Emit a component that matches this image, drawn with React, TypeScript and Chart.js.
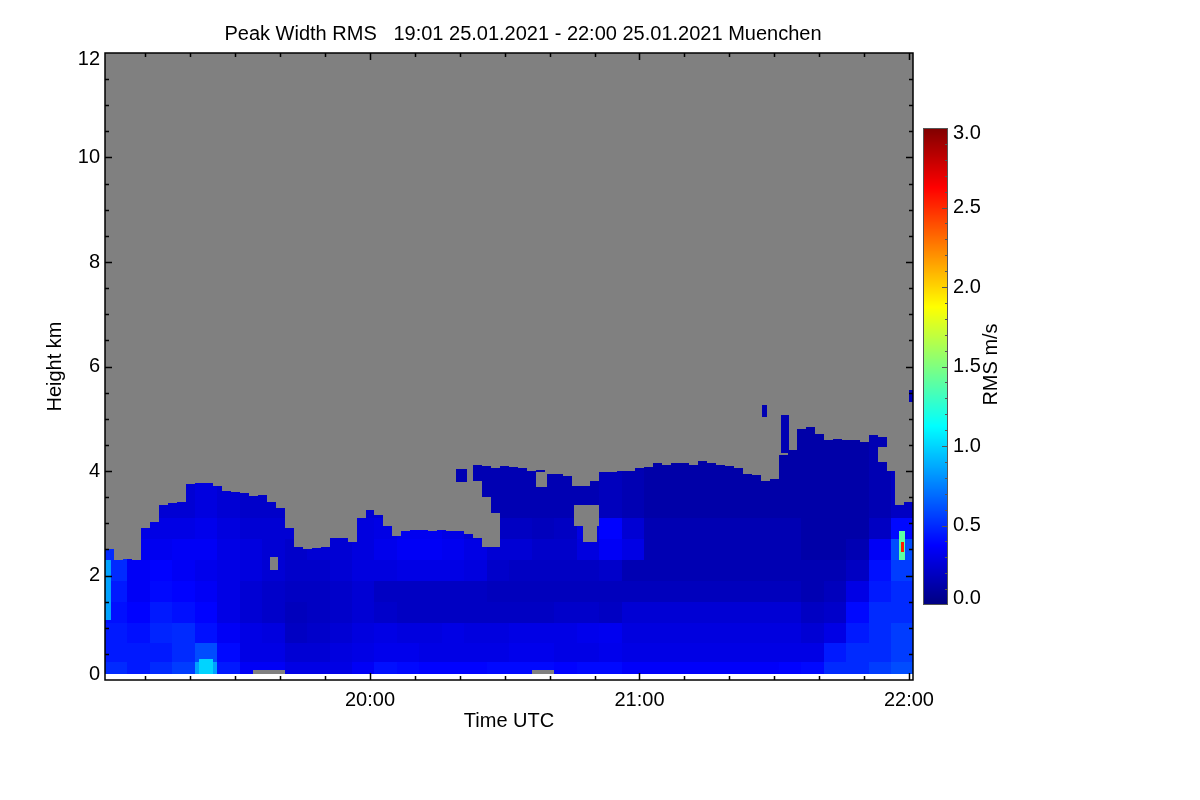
import React from "react"
import { useEffect, useRef } from "react"
import { Chart, registerables } from "chart.js"
import type { Plugin } from "chart.js"

Chart.register(...registerables)

// time axis in minutes after 19:00 UTC
const timeStart = 1
const timeEnd = 180.9
const hourTicks = [60, 120, 180]
const heightTicks = [0, 2, 4, 6, 8, 10, 12]
const rmsTicks = [0, 0.5, 1, 1.5, 2, 2.5, 3]
const rmsMin = 0
const rmsMax = 3

// top of the valid signal (km), 2-minute columns starting 19:01
const topStep = 2
const cloudTop = [
  2.5, 2.3, 2.32, 2.3, 2.9, 3.03, 3.35, 3.38, 3.4, 3.75,
  3.77, 3.77, 3.72, 3.62, 3.6, 3.58, 3.52, 3.55, 3.4, 3.3,
  2.9, 2.55, 2.5, 2.52, 2.55, 2.72, 2.72, 2.65, 3.1, 3.25,
  3.15, 2.95, 2.75, 2.85, 2.88, 2.88, 2.86, 2.87, 2.85, 2.85,
  2.8, 4.12, 4.1, 4.05, 4.1, 4.08, 4.05, 4.0, 4.02, 3.95,
  3.95, 3.9, 3.72, 3.72, 3.8, 3.98, 3.98, 4.0, 4.0, 4.05,
  4.08, 4.15, 4.12, 4.15, 4.15, 4.12, 4.2, 4.15, 4.12, 4.1,
  4.05, 3.95, 3.92, 3.8, 3.85, 4.3, 4.4, 4.8, 4.85, 4.7,
  4.6, 4.62, 4.6, 4.6, 4.55, 4.68, 4.65, 4.0, 3.35, 3.4,
]

// RMS (m/s), 5-minute columns starting 19:01, one array per height band
const valueStep = 5
const bandEdges = [0.11, 0.35, 0.7, 1.1, 1.5, 1.9, 2.3, 2.7, 3.1, 5.6]

const rmsBand0 = [
  0.5, 0.45, 0.5, 0.55, 0.85, 0.45, 0.35, 0.35,
  0.3, 0.3, 0.3, 0.35,
  0.42, 0.4, 0.38, 0.38, 0.38,
  0.4, 0.4, 0.4, 0.38, 0.4, 0.4,
  0.36, 0.36, 0.36, 0.36, 0.36, 0.36, 0.36, 0.38,
  0.4, 0.5, 0.5, 0.55, 0.6,
]
const rmsBand1 = [
  0.45, 0.45, 0.45, 0.5, 0.6, 0.4, 0.3, 0.3,
  0.25, 0.25, 0.28, 0.3,
  0.32, 0.32, 0.3, 0.3, 0.3,
  0.3, 0.32, 0.32, 0.3, 0.3, 0.32,
  0.3, 0.3, 0.3, 0.3, 0.3, 0.3, 0.3, 0.3,
  0.3, 0.45, 0.5, 0.5, 0.55,
]
const rmsBand2 = [
  0.45, 0.42, 0.48, 0.5, 0.42, 0.35, 0.3, 0.28,
  0.2, 0.22, 0.25, 0.28,
  0.3, 0.28, 0.28, 0.3, 0.28,
  0.28, 0.3, 0.3, 0.3, 0.32, 0.33,
  0.28, 0.28, 0.28, 0.28, 0.28, 0.28, 0.28, 0.28,
  0.25, 0.3, 0.45, 0.5, 0.55,
]
const rmsBand3 = [
  0.42, 0.38, 0.45, 0.42, 0.38, 0.3, 0.25, 0.22,
  0.18, 0.2, 0.22, 0.25,
  0.22, 0.2, 0.2, 0.2, 0.2,
  0.2, 0.2, 0.2, 0.22, 0.22, 0.2,
  0.25, 0.25, 0.25, 0.25, 0.25, 0.25, 0.25, 0.25,
  0.2, 0.22, 0.4, 0.5, 0.5,
]
const rmsBand4 = [
  0.45, 0.35, 0.4, 0.38, 0.35, 0.3, 0.25, 0.22,
  0.2, 0.2, 0.22, 0.25,
  0.2, 0.2, 0.2, 0.2, 0.2,
  0.18, 0.18, 0.18, 0.18, 0.18, 0.18,
  0.18, 0.18, 0.18, 0.18, 0.18, 0.18, 0.18, 0.18,
  0.15, 0.18, 0.3, 0.45, 0.5,
]
const rmsBand5 = [
  0.5, 0.35, 0.38, 0.35, 0.32, 0.3, 0.28, 0.25,
  0.22, 0.22, 0.25, 0.28,
  0.28, 0.3, 0.3, 0.3, 0.28,
  0.22, 0.2, 0.2, 0.2, 0.2, 0.22,
  0.15, 0.15, 0.15, 0.15, 0.15, 0.15, 0.15, 0.15,
  0.15, 0.15, 0.2, 0.42, 0.55,
]
const rmsBand6 = [
  0.5, 0.33, 0.33, 0.35, 0.35, 0.3, 0.28, 0.25,
  0.22, 0.25, 0.25, 0.28,
  0.32, 0.35, 0.35, 0.33, 0.3,
  0.25, 0.25, 0.22, 0.22, 0.28, 0.35,
  0.3, 0.15, 0.15, 0.15, 0.15, 0.15, 0.15, 0.15,
  0.12, 0.12, 0.15, 0.35, 0.6,
]
const rmsBand7 = [
  0.45, 0.3, 0.3, 0.3, 0.32, 0.28, 0.25, 0.25,
  0.25, 0.25, 0.25, 0.28,
  0.3, 0.33, 0.33, 0.3, 0.25,
  0.2, 0.2, 0.18, 0.2, 0.3, 0.38,
  0.25, 0.15, 0.15, 0.15, 0.15, 0.15, 0.15, 0.15,
  0.12, 0.12, 0.12, 0.2, 0.4,
]
const rmsBand8 = [
  0.4, 0.28, 0.25, 0.25, 0.28, 0.25, 0.22, 0.22,
  0.22, 0.22, 0.22, 0.25,
  0.25, 0.25, 0.25, 0.22, 0.15,
  0.15, 0.15, 0.15, 0.15, 0.15, 0.18,
  0.15, 0.12, 0.12, 0.12, 0.12, 0.12, 0.12, 0.12,
  0.12, 0.12, 0.12, 0.15, 0.2,
]
const rmsBands = [rmsBand0, rmsBand1, rmsBand2, rmsBand3, rmsBand4, rmsBand5, rmsBand6, rmsBand7, rmsBand8]

// no-data holes inside the signal: [t0, t1, h0, h1]
const gaps = [
  [34, 41, 0.11, 0.19],
  [96, 101, 0.11, 0.2],
  [37.8, 39.6, 2.1, 2.35],
  [83, 85, 2.72, 3.8],
  [85, 87, 2.55, 3.5],
  [87, 89, 2.55, 3.2],
  [105.5, 111, 2.95, 3.35],
  [107.5, 110.5, 2.65, 2.95],
  [97, 99.3, 3.7, 3.98],
  [173, 177, 4.17, 4.45],
]

// small isolated features: [t0, t1, h0, h1, rms]
const patches = [
  [1.1, 2.3, 1.15, 2.3, 0.85],
  [22, 25, 0.11, 0.4, 1.0],
  [79.1, 81.6, 3.79, 4.04, 0.15],
  [147.3, 148.4, 5.03, 5.26, 0.15],
  [151.5, 153.3, 4.35, 5.07, 0.15],
  [180.0, 180.9, 5.32, 5.55, 0.15],
  [177.8, 179.2, 2.3, 2.85, 1.4],
  [178.2, 178.9, 2.45, 2.65, 2.55],
]

const FONT = '"Liberation Sans", Arial, Helvetica, sans-serif'
const FONT_SIZE = 20
const GREY = "#808080"
const TITLE = "Peak Width RMS   19:01 25.01.2021 - 22:00 25.01.2021 Muenchen"

function jet(v: number) {
  const f = Math.max(0, Math.min(1, (v - rmsMin) / (rmsMax - rmsMin)))
  const c = (a: number) => Math.round(255 * Math.max(0, Math.min(1, a)))
  const r = c(Math.min(4 * f - 1.5, -4 * f + 4.5))
  const g = c(Math.min(4 * f - 0.5, -4 * f + 3.5))
  const b = c(Math.min(4 * f + 0.5, -4 * f + 2.5))
  return `rgb(${r},${g},${b})`
}

function hhmm(v: number) {
  const h = 19 + Math.floor(v / 60)
  const m = Math.round(v % 60)
  return `${h}:${m < 10 ? "0" + m : m}`
}

const heatmap: Plugin = {
  id: "heatmap",
  beforeDatasetsDraw(chart) {
    const { ctx, chartArea: a } = chart
    const x = chart.scales.x
    const y = chart.scales.y
    const rect = (t0: number, t1: number, h0: number, h1: number, color: string) => {
      const x0 = Math.round(x.getPixelForValue(t0))
      const x1 = Math.round(x.getPixelForValue(t1))
      const y0 = Math.round(y.getPixelForValue(h1))
      const y1 = Math.round(y.getPixelForValue(h0))
      ctx.fillStyle = color
      ctx.fillRect(x0, y0, x1 - x0, y1 - y0)
    }
    ctx.save()
    ctx.beginPath()
    ctx.rect(a.left, a.top, a.right - a.left, a.bottom - a.top)
    ctx.clip()
    rect(timeStart, timeEnd + 1, bandEdges[0], 12, GREY)
    rmsBands.forEach((band, b) => {
      band.forEach((v, k) => {
        const t0 = timeStart + k * valueStep
        rect(t0, t0 + valueStep, bandEdges[b], bandEdges[b + 1], jet(v))
      })
    })
    cloudTop.forEach((h, j) => {
      const t0 = timeStart + j * topStep
      rect(t0, t0 + topStep, h, 12, GREY)
    })
    gaps.forEach(([t0, t1, h0, h1]) => rect(t0, t1, h0, h1, GREY))
    patches.forEach(([t0, t1, h0, h1, v]) => rect(t0, t1, h0, h1, jet(v)))
    ctx.restore()
  },
  afterDraw(chart) {
    const { ctx, chartArea: a } = chart
    const x = chart.scales.x
    const y = chart.scales.y
    ctx.save()
    ctx.strokeStyle = "#000"
    ctx.lineWidth = 1.5

    // inward tick marks on all four sides
    ctx.beginPath()
    for (let t = 10; t <= 180; t += 10) {
      const px = Math.round(x.getPixelForValue(t)) + 0.5
      const len = t % 60 === 0 ? 7 : 4
      ctx.moveTo(px, a.bottom)
      ctx.lineTo(px, a.bottom - len)
      ctx.moveTo(px, a.top)
      ctx.lineTo(px, a.top + len)
    }
    for (let h = 0.5; h < 12; h += 0.5) {
      const py = Math.round(y.getPixelForValue(h)) + 0.5
      const len = h % 2 === 0 ? 7 : 4
      ctx.moveTo(a.left, py)
      ctx.lineTo(a.left + len, py)
      ctx.moveTo(a.right, py)
      ctx.lineTo(a.right - len, py)
    }
    ctx.stroke()
    ctx.strokeRect(a.left, a.top, a.right - a.left, a.bottom - a.top)

    // height labels, kept inside the axis ends
    ctx.fillStyle = "#000"
    ctx.font = `${FONT_SIZE}px ${FONT}`
    ctx.textAlign = "right"
    ctx.textBaseline = "middle"
    heightTicks.forEach((h) => {
      const py = Math.min(a.bottom - 6, Math.max(a.top + 6, y.getPixelForValue(h)))
      ctx.fillText(String(h), a.left - 5, py)
    })

    // title
    ctx.textAlign = "center"
    ctx.fillText(TITLE, 523, 34)

    // colour bar
    const cbLeft = a.right + 10
    const cbWidth = 25
    const cbTop = 128
    const cbBottom = 605
    const cbPix = (v: number) => cbBottom - ((v - rmsMin) / (rmsMax - rmsMin)) * (cbBottom - cbTop)
    for (let p = cbTop; p < cbBottom; p++) {
      const v = rmsMin + ((cbBottom - p - 0.5) / (cbBottom - cbTop)) * (rmsMax - rmsMin)
      ctx.fillStyle = jet(v)
      ctx.fillRect(cbLeft, p, cbWidth, 1)
    }
    ctx.strokeStyle = "#555"
    ctx.lineWidth = 1
    ctx.beginPath()
    for (let i = 1; i < 30; i++) {
      const py = Math.round(cbPix(i / 10)) + 0.5
      const len = i % 5 === 0 ? 6 : 3
      ctx.moveTo(cbLeft + cbWidth, py)
      ctx.lineTo(cbLeft + cbWidth - len, py)
    }
    ctx.stroke()
    ctx.strokeRect(cbLeft + 0.5, cbTop + 0.5, cbWidth - 1, cbBottom - cbTop - 1)

    ctx.fillStyle = "#000"
    ctx.textAlign = "left"
    rmsTicks.forEach((v) => {
      const py = Math.min(cbBottom - 7, Math.max(cbTop + 5, cbPix(v)))
      ctx.fillText(v.toFixed(1), cbLeft + cbWidth + 5, py)
    })

    ctx.translate(991, (cbTop + cbBottom) / 2 - 2)
    ctx.rotate(-Math.PI / 2)
    ctx.textAlign = "center"
    ctx.fillText("RMS m/s", 0, 0)
    ctx.restore()
  },
}

export default function App() {
  const canvasRef = useRef<HTMLCanvasElement>(null)

  useEffect(() => {
    document.body.style.margin = "0"
    const canvas = canvasRef.current
    if (!canvas) return
    const font = { family: FONT, size: FONT_SIZE }
    const chart = new Chart(canvas, {
      type: "scatter",
      data: { datasets: [{ data: [] }] },
      plugins: [heatmap],
      options: {
        responsive: false,
        animation: false,
        devicePixelRatio: 1,
        layout: { padding: { left: 39, right: 287, top: 53, bottom: 63 } },
        plugins: { legend: { display: false }, tooltip: { enabled: false } },
        scales: {
          x: {
            type: "linear",
            min: timeStart,
            max: timeEnd,
            afterBuildTicks: (s: any) => {
              s.ticks = hourTicks.map((v) => ({ value: v }))
            },
            afterFit: (s: any) => {
              s.height = 57
            },
            ticks: {
              callback: (v: any) => hhmm(Number(v)),
              font,
              color: "#000",
              padding: 8,
              maxRotation: 0,
              autoSkip: false,
            },
            grid: { display: false, drawTicks: false },
            border: { display: false },
            title: { display: true, text: "Time UTC", font, color: "#000", padding: { top: 4, bottom: 4 } },
          },
          y: {
            type: "linear",
            min: 0,
            max: 12,
            afterFit: (s: any) => {
              s.width = 66
            },
            ticks: { display: false },
            grid: { display: false, drawTicks: false },
            border: { display: false },
            title: { display: true, text: "Height km", font, color: "#000", padding: { top: 4, bottom: 4 } },
          },
        },
      },
    })
    return () => chart.destroy()
  }, [])

  return (
    <div style={{ width: 1200, height: 800, background: "#fff" }}>
      <canvas ref={canvasRef} width={1200} height={800} />
    </div>
  )
}
